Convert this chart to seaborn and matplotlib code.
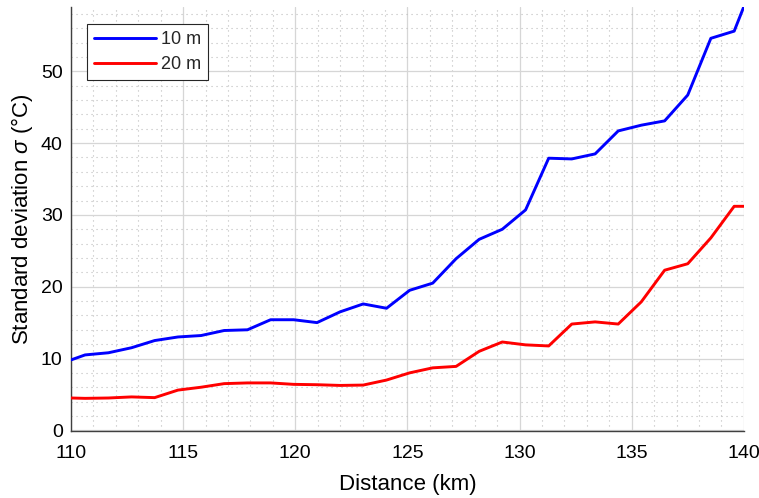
import numpy as np
import pandas as pd
import matplotlib
matplotlib.use("Agg")
import matplotlib.pyplot as plt
import seaborn as sns
from matplotlib.ticker import MultipleLocator

# ---- data ----
distance_km = [110.0, 110.63, 111.67, 112.7, 113.73, 114.77, 115.8, 116.83, 117.87, 118.9,
               119.93, 120.97, 122.0, 123.03, 124.07, 125.1, 126.13, 127.17, 128.2, 129.23,
               130.27, 131.3, 132.33, 133.37, 134.4, 135.43, 136.47, 137.5, 138.53, 139.57, 140.0]
sigma_10m = [9.8, 10.5, 10.8, 11.5, 12.5, 13.0, 13.2, 13.9, 14.0, 15.4,
             15.4, 15.0, 16.5, 17.6, 17.0, 19.5, 20.5, 23.9, 26.6, 28.0,
             30.7, 37.9, 37.8, 38.5, 41.7, 42.5, 43.1, 46.7, 54.6, 55.6, 59.0]
sigma_20m = [4.5, 4.45, 4.5, 4.65, 4.55, 5.6, 6.0, 6.5, 6.6, 6.6,
             6.4, 6.35, 6.25, 6.3, 7.0, 8.0, 8.7, 8.9, 11.0, 12.3,
             11.9, 11.75, 14.8, 15.1, 14.8, 17.9, 22.3, 23.2, 26.8, 31.2, 31.2]
series_labels = ["10 m", "20 m"]
series_colors = ["#0000ff", "#ff0000"]

x_label = "Distance (km)"
y_label = r"Standard deviation $\sigma$ (°C)"
x_limits = (110, 140)
y_limits = (-0.1, 59.0)

df = pd.DataFrame({
    "Distance": distance_km * 2,
    "sigma": sigma_10m + sigma_20m,
    "series": [series_labels[0]] * len(distance_km) + [series_labels[1]] * len(distance_km),
})

sns.set_theme(style="white")
plt.rcParams["font.family"] = ["Liberation Sans", "DejaVu Sans"]
plt.rcParams["mathtext.fontset"] = "custom"
plt.rcParams["mathtext.it"] = "Liberation Sans:italic"
plt.rcParams["mathtext.rm"] = "Liberation Sans"

fig = plt.figure(figsize=(7.59, 4.98), dpi=100)
ax = fig.add_axes([0.0935, 0.1345, 0.8865, 0.852])

sns.lineplot(data=df, x="Distance", y="sigma", hue="series",
             palette=dict(zip(series_labels, series_colors)),
             linewidth=2.1, ax=ax, legend=True, zorder=3)

ax.set_xlim(*x_limits)
ax.set_ylim(*y_limits)
ax.xaxis.set_major_locator(MultipleLocator(5))
ax.xaxis.set_minor_locator(MultipleLocator(1))
ax.yaxis.set_major_locator(MultipleLocator(10))
ax.yaxis.set_minor_locator(MultipleLocator(2))

ax.grid(True, which="major", color="#d6d6d6", linewidth=0.9, linestyle="-", zorder=0)
ax.grid(True, which="minor", color="#bdbdbd", linewidth=0.8, linestyle=(0, (1, 3.5)), zorder=0)
ax.set_axisbelow(True)

for s in ["top", "right"]:
    ax.spines[s].set_visible(False)
for s in ["left", "bottom"]:
    ax.spines[s].set_color("#404040")
    ax.spines[s].set_linewidth(1.0)

ax.tick_params(axis="both", which="major", direction="in", length=5, width=1.0,
               color="#262626", labelsize=14, labelcolor="#000000")
ax.tick_params(axis="x", which="major", pad=10)
ax.tick_params(axis="y", which="major", pad=6)
ax.tick_params(axis="both", which="minor", length=0)

ax.set_xlabel(x_label, fontsize=16, color="#000000", labelpad=9)
ax.set_ylabel(y_label, fontsize=16, color="#000000", labelpad=4)

handles, labels = ax.get_legend_handles_labels()
leg = ax.legend(handles, labels, loc="upper left", bbox_to_anchor=(0.024, 0.96),
                fontsize=13, frameon=True, fancybox=False, edgecolor="#262626",
                framealpha=1.0, handlelength=3.4, handletextpad=0.3,
                borderpad=0.4, labelspacing=0.45, borderaxespad=0)
leg.get_frame().set_linewidth(0.8)

fig.savefig("out.png", dpi=100)
